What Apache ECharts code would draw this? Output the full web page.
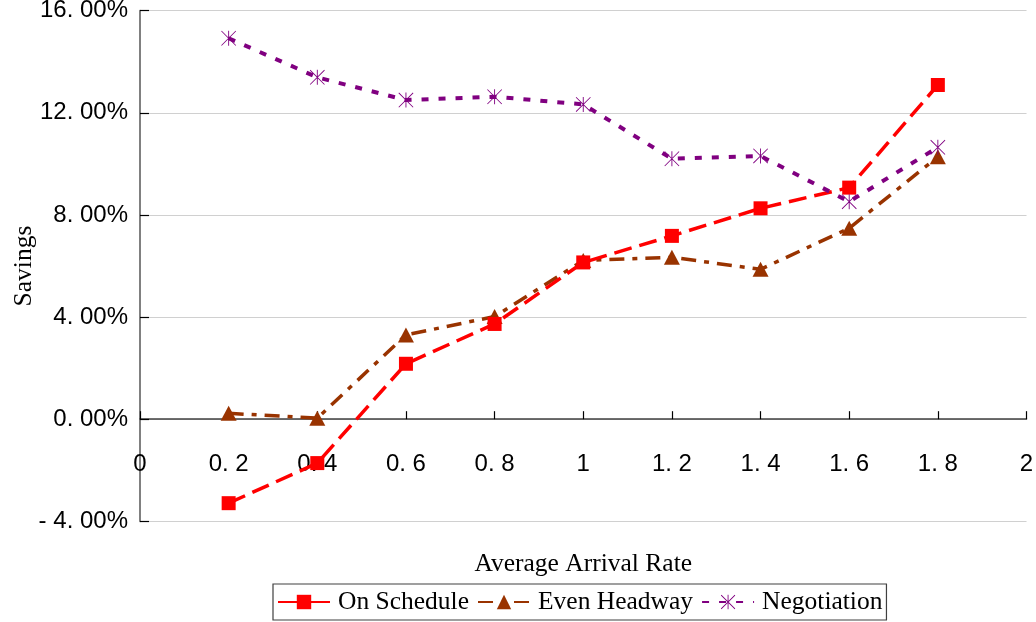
<!DOCTYPE html>
<html>
<head>
<meta charset="utf-8">
<script src="https://cdn.jsdelivr.net/npm/echarts@6/dist/echarts.min.js"></script>
<style>
  html, body { margin: 0; padding: 0; background: #ffffff; }
  #chart { width: 1036px; height: 622px; }
</style>
</head>
<body>
<div id="chart"></div>
<script>
// Savings (%) by average arrival rate for three dispatching strategies
const arrivalRates = [0.2, 0.4, 0.6, 0.8, 1.0, 1.2, 1.4, 1.6, 1.8];
const onSchedule   = [-3.29, -1.72, 2.17, 3.73, 6.14, 7.18, 8.26, 9.07, 13.09];
const evenHeadway  = [0.23, 0.04, 3.30, 4.02, 6.22, 6.34, 5.87, 7.48, 10.28];
const negotiation  = [14.92, 13.39, 12.50, 12.63, 12.33, 10.20, 10.31, 8.52, 10.65];
const seriesNames  = ['On Schedule', 'Even Headway', 'Negotiation'];
const xAxisTitle   = 'Average Arrival Rate';
const yAxisTitle   = 'Savings';

const pairs = ys => arrivalRates.map((x, i) => [x, ys[i]]);

// six-armed asterisk marker built from three thin bars
const asterisk = 'path://M47 0L53 0L53 100L47 100Z M0 4L4 0L100 96L96 100Z M96 0L100 4L4 100L0 96Z';

const sansFont = "'Liberation Sans', Arial, sans-serif";
const serifFont = "'Liberation Serif', 'Times New Roman', serif";

const xLabel = v => {
  const s = String(Math.round(v * 10) / 10);
  return s.replace('.', '. ');
};
const yLabel = v => {
  const s = v.toFixed(2).replace('.', '. ');
  return (s.startsWith('-') ? '- ' + s.slice(1) : s) + '%';
};

const chart = echarts.init(document.getElementById('chart'), null, { renderer: 'canvas' });

chart.setOption({
  backgroundColor: '#ffffff',
  animation: false,
  grid: {
    left: 140, right: 9.5, top: 10.7, bottom: 100.7,
    containLabel: false, outerBoundsMode: 'none'
  },
  xAxis: {
    type: 'value',
    min: 0, max: 2, interval: 0.2,
    name: xAxisTitle,
    nameLocation: 'middle',
    nameGap: 30,
    nameMoveOverlap: false,
    nameTextStyle: { fontFamily: serifFont, fontSize: 25.5, color: '#000' },
    axisLine: { onZero: true, lineStyle: { color: '#404040', width: 1.5 } },
    axisTick: { inside: true, length: 8, lineStyle: { color: '#000', width: 1.2 } },
    // tick labels sit just under the zero line, above the bottom of the plot
    axisLabel: {
      formatter: xLabel, margin: -69, showMinLabel: true, showMaxLabel: true,
      fontFamily: sansFont, fontSize: 24, color: '#000'
    },
    splitLine: { show: false }
  },
  yAxis: {
    type: 'value',
    min: -4, max: 16, interval: 4,
    name: yAxisTitle,
    nameLocation: 'middle',
    nameGap: 103,
    nameMoveOverlap: false,
    nameTextStyle: { fontFamily: serifFont, fontSize: 25.5, color: '#000' },
    axisLine: { show: true, onZero: false, lineStyle: { color: '#808080', width: 2 } },
    axisTick: { show: true, inside: true, length: 9, lineStyle: { color: '#000', width: 1.2 } },
    axisLabel: {
      formatter: yLabel, margin: 12, padding: [12, 0, 0, 0],
      fontFamily: sansFont, fontSize: 24, color: '#000'
    },
    splitLine: { show: true, lineStyle: { color: '#d0d0d0', width: 1.2 } }
  },
  legend: {
    left: 273, top: 584,
    orient: 'horizontal',
    borderColor: '#404040', borderWidth: 1.2,
    padding: [5, 4, 5, 4],
    itemWidth: 52, itemHeight: 18, itemGap: 8,
    textStyle: { fontFamily: serifFont, fontSize: 25.5, color: '#000', padding: [0, 0, 0, 3] },
    data: [
      { name: seriesNames[0], lineStyle: { type: 'solid' } },
      { name: seriesNames[1] },
      { name: seriesNames[2] }
    ]
  },
  series: [
    {
      name: seriesNames[0], type: 'line', data: pairs(onSchedule),
      symbol: 'rect', symbolSize: 14,
      itemStyle: { color: '#ff0000' },
      lineStyle: { color: '#ff0000', width: 3.5, type: [18, 8] },
      z: 3
    },
    {
      name: seriesNames[1], type: 'line', data: pairs(evenHeadway),
      symbol: 'triangle', symbolSize: [16, 15],
      itemStyle: { color: '#993300' },
      lineStyle: { color: '#993300', width: 3.5, type: [15, 8, 5, 8] },
      z: 2
    },
    {
      name: seriesNames[2], type: 'line', data: pairs(negotiation),
      symbol: asterisk, symbolSize: 15,
      itemStyle: { color: '#800080' },
      lineStyle: { color: '#800080', width: 4, type: [7, 10] },
      z: 4
    }
  ]
});
</script>
</body>
</html>
